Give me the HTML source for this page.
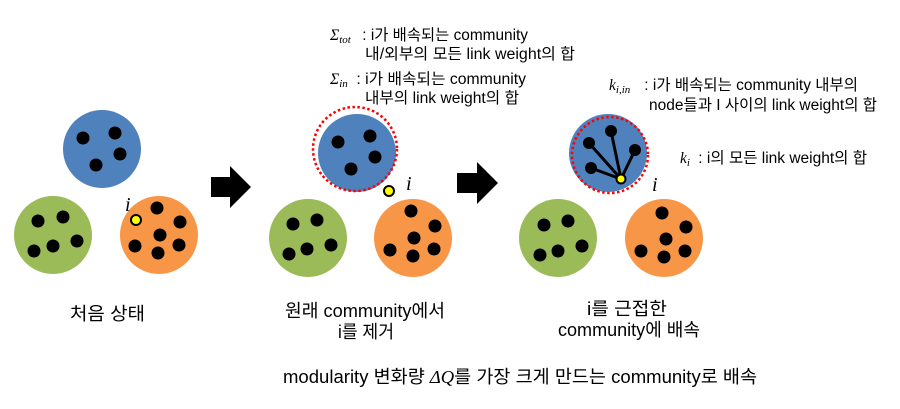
<!DOCTYPE html>
<html><head><meta charset="utf-8"><style>
html,body{margin:0;padding:0;background:#fff;}
svg{display:block;}
text{font-family:"Liberation Sans","Noto Sans CJK KR",sans-serif;fill:#000;}
.m{font-family:"Liberation Serif","DejaVu Serif",serif;font-style:italic;}
</style></head><body>
<svg width="900" height="409" viewBox="0 0 900 409" xmlns="http://www.w3.org/2000/svg">
<g fill="#000">
<!-- Panel 1 -->
<circle cx="102" cy="149" r="39" fill="#4f81bd"/>
<circle cx="83" cy="138" r="6.5"/><circle cx="115" cy="133" r="6.5"/><circle cx="120" cy="154" r="6.5"/><circle cx="96" cy="165" r="6.5"/>
<circle cx="53" cy="235" r="39" fill="#9bbb59"/>
<circle cx="38" cy="221" r="6.5"/><circle cx="63" cy="217" r="6.5"/><circle cx="77" cy="241" r="6.5"/><circle cx="34" cy="251" r="6.5"/><circle cx="53" cy="246" r="6.5"/>
<circle cx="159" cy="235" r="39" fill="#f79646"/>
<circle cx="157" cy="208" r="6.5"/><circle cx="180" cy="222" r="6.5"/><circle cx="160" cy="235" r="6.5"/><circle cx="135" cy="246" r="6.5"/><circle cx="179" cy="245" r="6.5"/><circle cx="158" cy="253" r="6.5"/>
<circle cx="136" cy="220" r="5" fill="#ff0" stroke="#000" stroke-width="2"/>
<text x="125" y="211" class="m" font-size="20">i</text>
<polygon points="211,177 230,177 230,166 251,187 230,208 230,197 211,197"/>
<!-- Panel 2 -->
<circle cx="357" cy="153" r="39" fill="#4f81bd"/>
<circle cx="355" cy="149" r="42" fill="none" stroke="#f00" stroke-width="2.5" stroke-dasharray="2.5 2.5"/>
<circle cx="338" cy="142" r="6.5"/><circle cx="370" cy="136" r="6.5"/><circle cx="375" cy="157" r="6.5"/><circle cx="351" cy="169" r="6.5"/>
<circle cx="389" cy="191" r="5" fill="#ff0" stroke="#000" stroke-width="2"/>
<text x="406" y="190" class="m" font-size="20">i</text>
<circle cx="308" cy="238" r="39" fill="#9bbb59"/>
<circle cx="293" cy="224" r="6.5"/><circle cx="317" cy="220" r="6.5"/><circle cx="331" cy="245" r="6.5"/><circle cx="289" cy="254" r="6.5"/><circle cx="307" cy="249" r="6.5"/>
<circle cx="413" cy="238" r="39" fill="#f79646"/>
<circle cx="411" cy="211" r="6.5"/><circle cx="435" cy="226" r="6.5"/><circle cx="414" cy="238" r="6.5"/><circle cx="390" cy="250" r="6.5"/><circle cx="434" cy="249" r="6.5"/><circle cx="413" cy="256" r="6.5"/>
<polygon points="457,173 477,173 477,162 498,183 477,204 477,193 457,193"/>
<!-- Panel 3 -->
<circle cx="608" cy="153" r="39" fill="#4f81bd"/>
<circle cx="610" cy="155" r="38" fill="none" stroke="#f00" stroke-width="2.5" stroke-dasharray="2.5 2.5"/>
<g stroke="#000" stroke-width="3">
<line x1="621" y1="179" x2="589" y2="143"/><line x1="621" y1="179" x2="611" y2="131"/><line x1="621" y1="179" x2="635" y2="150"/><line x1="621" y1="179" x2="591" y2="168"/>
</g>
<circle cx="589" cy="143" r="6"/><circle cx="611" cy="131" r="6"/><circle cx="635" cy="150" r="6"/><circle cx="591" cy="168" r="6"/>
<circle cx="621" cy="179" r="4.5" fill="#ff0" stroke="#000" stroke-width="2"/>
<text x="652" y="191" class="m" font-size="20">i</text>
<circle cx="558" cy="238" r="39" fill="#9bbb59"/>
<circle cx="544" cy="225" r="6.5"/><circle cx="568" cy="221" r="6.5"/><circle cx="582" cy="246" r="6.5"/><circle cx="540" cy="255" r="6.5"/><circle cx="558" cy="251" r="6.5"/>
<circle cx="664" cy="238" r="39" fill="#f79646"/>
<circle cx="662" cy="213" r="6.5"/><circle cx="686" cy="227" r="6.5"/><circle cx="666" cy="239" r="6.5"/><circle cx="641" cy="251" r="6.5"/><circle cx="685" cy="251" r="6.5"/><circle cx="664" cy="257" r="6.5"/>
</g>
<!-- annotations -->
<g font-size="15.5">
<text x="330" y="40"><tspan class="m">Σ</tspan><tspan class="m" font-size="11" dy="3">tot</tspan><tspan dy="-3" x="358" textLength="170" lengthAdjust="spacingAndGlyphs"> : i가 배속되는 community</tspan></text>
<text x="365" y="59" textLength="210" lengthAdjust="spacingAndGlyphs">내/외부의 모든 link weight의 합</text>
<text x="330" y="84"><tspan class="m">Σ</tspan><tspan class="m" font-size="11" dy="3">in</tspan><tspan dy="-3" x="352" textLength="174" lengthAdjust="spacingAndGlyphs"> : i가 배속되는 community</tspan></text>
<text x="365" y="103" textLength="154" lengthAdjust="spacingAndGlyphs">내부의 link weight의 합</text>
<text x="609" y="90"><tspan class="m">k</tspan><tspan class="m" font-size="11" dy="3">i,in</tspan><tspan dy="-3" x="640" textLength="218" lengthAdjust="spacingAndGlyphs"> : i가 배속되는 community 내부의</tspan></text>
<text x="649" y="110" textLength="228" lengthAdjust="spacingAndGlyphs">node들과 I 사이의 link weight의 합</text>
<text x="680" y="163"><tspan class="m">k</tspan><tspan class="m" font-size="11" dy="3">i</tspan><tspan dy="-3" x="694" textLength="173" lengthAdjust="spacingAndGlyphs"> : i의 모든 link weight의 합</tspan></text>
</g>
<g font-size="18">
<text x="70" y="320" textLength="75" lengthAdjust="spacingAndGlyphs">처음 상태</text>
<text x="285" y="317" textLength="160" lengthAdjust="spacingAndGlyphs">원래 community에서</text>
<text x="338" y="338" textLength="56" lengthAdjust="spacingAndGlyphs">i를 제거</text>
<text x="587" y="315" textLength="80" lengthAdjust="spacingAndGlyphs">i를 근접한</text>
<text x="558" y="336" textLength="142" lengthAdjust="spacingAndGlyphs">community에 배속</text>
<text x="283" y="383" textLength="474" lengthAdjust="spacingAndGlyphs">modularity 변화량 <tspan class="m">ΔQ</tspan>를 가장 크게 만드는 community로 배속</text>
</g>
</svg>
</body></html>
